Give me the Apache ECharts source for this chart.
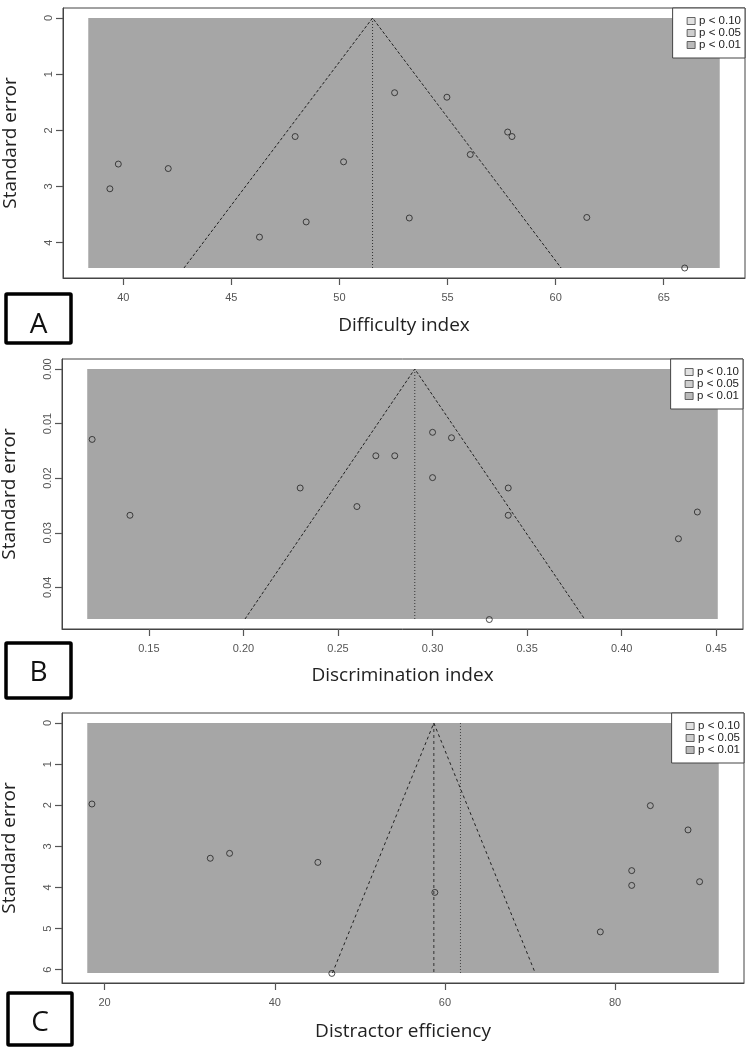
<!DOCTYPE html>
<html>
<head>
<meta charset="utf-8">
<script src="https://cdn.jsdelivr.net/npm/echarts@6/dist/echarts.min.js"></script>
<style>
html,body{margin:0;padding:0;background:#fff;}
#chart{width:750px;height:1051px;}
</style>
</head>
<body>
<div id="chart"></div>
<script>
// ---- Panel A: Difficulty index ----
const diffX  = [39.77, 39.38, 42.08, 47.95, 50.19, 48.46, 46.30, 52.55, 54.97, 57.78, 57.98, 56.05, 53.23, 61.44, 65.97];
const diffSE = [2.60, 3.04, 2.68, 2.11, 2.56, 3.63, 3.90, 1.33, 1.41, 2.03, 2.11, 2.43, 3.56, 3.55, 4.45];
const diffEst = 51.53;
const diffRegionX = [38.38, 67.59];
const diffRegionSE = 4.45;
const diffXTicks = [40, 45, 50, 55, 60, 65];
const diffYTicks = [0, 1, 2, 3, 4];

// ---- Panel B: Discrimination index ----
const discX  = [0.12, 0.14, 0.23, 0.26, 0.27, 0.28, 0.30, 0.31, 0.30, 0.34, 0.34, 0.44, 0.43, 0.33];
const discSE = [0.0129, 0.0268, 0.0218, 0.0252, 0.0159, 0.0159, 0.0116, 0.0126, 0.0199, 0.0218, 0.0268, 0.0262, 0.0311, 0.0459];
const discEst = 0.2906;
const discRegionX = [0.1174, 0.4508];
const discRegionSE = 0.0458;
const discXTicks = [0.15, 0.20, 0.25, 0.30, 0.35, 0.40, 0.45];
const discYTicks = [0.00, 0.01, 0.02, 0.03, 0.04];

// ---- Panel C: Distractor efficiency ----
const distX  = [18.51, 32.42, 34.69, 45.07, 46.71, 58.82, 84.15, 88.58, 81.96, 81.96, 89.94, 78.27];
const distSE = [1.97, 3.29, 3.17, 3.39, 6.09, 4.12, 2.01, 2.60, 3.59, 3.95, 3.86, 5.08];
const distEst = 58.7;
const distRef = 61.83;
const distRegionX = [17.96, 92.19];
const distRegionSE = 6.08;
const distXTicks = [20, 40, 60, 80];
const distYTicks = [0, 1, 2, 3, 4, 5, 6];

const legendNames = ['p < 0.10', 'p < 0.05', 'p < 0.01'];
const legendColors = ['#dadada', '#c2c2c2', '#a9a9a9'];
const panelLetters = ['A', 'B', 'C'];
const xTitles = ['Difficulty index', 'Discrimination index', 'Distractor efficiency'];
const yTitle = 'Standard error';

const panels = [
  {x: diffX, se: diffSE, est: diffEst, ref: null, rx: diffRegionX, rse: diffRegionSE, xt: diffXTicks, yt: diffYTicks, dec: 0, ydec: 0,
   grid: {left: 63, right: 5, top: 8, height: 270}, xGap: 38, funnelType: [3, 2], vType: [1, 2]},
  {x: discX, se: discSE, est: discEst, ref: null, rx: discRegionX, rse: discRegionSE, xt: discXTicks, yt: discYTicks, dec: 2, ydec: 2,
   grid: {left: 62, right: 7, top: 359, height: 270}, xGap: 37, funnelType: [3, 2], vType: [1, 2]},
  {x: distX, se: distSE, est: distEst, ref: distRef, rx: distRegionX, rse: distRegionSE, xt: distXTicks, yt: distYTicks, dec: 0, ydec: 0,
   grid: {left: 62, right: 6, top: 713, height: 270}, xGap: 39, funnelType: [3, 3], vType: [3, 3]}
];

const FONT_R = '"Liberation Sans", Arial, sans-serif';
const FONT_T = '"Open Sans", sans-serif';

const grids = [], xAxes = [], yAxes = [], series = [], legends = [], graphics = [];

panels.forEach((p, i) => {
  grids.push(Object.assign({show: true, borderColor: '#444', borderWidth: 1, backgroundColor: 'transparent',
    containLabel: false, outerBoundsMode: 'none'}, p.grid));
  const xr = p.rx[1] - p.rx[0];
  xAxes.push({
    type: 'value', gridIndex: i, position: 'bottom',
    min: p.rx[0] - 0.04 * xr, max: p.rx[1] + 0.04 * xr,
    axisLine: {show: true, onZero: false, lineStyle: {color: '#444', width: 1}},
    splitLine: {show: false},
    axisTick: {show: true, length: 7, customValues: p.xt, lineStyle: {color: '#555', width: 1.2}},
    axisLabel: {customValues: p.xt, margin: 14, color: '#555', fontSize: 11, fontFamily: FONT_R,
      formatter: v => Number(v).toFixed(p.dec)},
    name: xTitles[i], nameLocation: 'middle', nameGap: p.xGap,
    nameTextStyle: {fontSize: 19, fontFamily: FONT_T, color: '#222'}
  });
  yAxes.push({
    type: 'value', gridIndex: i, inverse: true, position: 'left',
    min: -0.04 * p.rse, max: 1.04 * p.rse,
    axisLine: {show: true, onZero: false, lineStyle: {color: '#444', width: 1}},
    splitLine: {show: false},
    axisTick: {show: true, length: 7, customValues: p.yt, lineStyle: {color: '#555', width: 1.2}},
    axisLabel: {customValues: p.yt, rotate: 90, margin: 9, color: '#555', fontSize: 11, fontFamily: FONT_R,
      formatter: v => Number(v).toFixed(p.ydec)},
    name: yTitle, nameLocation: 'middle', nameGap: 43,
    nameTextStyle: {fontSize: 19, fontFamily: FONT_T, color: '#222'}
  });
  // shaded region
  series.push({
    type: 'line', xAxisIndex: i, yAxisIndex: i, data: [], silent: true, z: 1,
    markArea: {silent: true, itemStyle: {color: '#a6a6a6', opacity: 1},
      data: [[{coord: [p.rx[0], 0]}, {coord: [p.rx[1], p.rse]}]]}
  });
  // funnel lines
  const half = 1.96 * p.rse;
  series.push({
    type: 'line', xAxisIndex: i, yAxisIndex: i, z: 3, symbol: 'none', silent: true,
    data: [[p.est - half, p.rse], [p.est, 0], [p.est + half, p.rse]],
    lineStyle: {color: '#222', width: 1, type: p.funnelType}
  });
  series.push({
    type: 'line', xAxisIndex: i, yAxisIndex: i, z: 3, symbol: 'none', silent: true,
    data: [[p.est, 0], [p.est, p.rse]],
    lineStyle: {color: '#333', width: 1, type: p.vType}
  });
  if (p.ref !== null) {
    series.push({
      type: 'line', xAxisIndex: i, yAxisIndex: i, z: 3, symbol: 'none', silent: true,
      data: [[p.ref, 0], [p.ref, p.rse]],
      lineStyle: {color: '#444', width: 1, type: [1, 2]}
    });
  }
  // points
  series.push({
    type: 'scatter', xAxisIndex: i, yAxisIndex: i, z: 4,
    data: p.x.map((v, k) => [v, p.se[k]]),
    symbol: 'circle', symbolSize: 6,
    itemStyle: {color: 'rgba(0,0,0,0)', borderColor: '#222', borderWidth: 1}
  });
  // legend
  legends.push({
    data: legendNames, orient: 'vertical', right: p.grid.right, top: p.grid.top,
    backgroundColor: '#fff', borderColor: '#444', borderWidth: 1,
    padding: [7, 4, 7, 14], itemGap: 0, itemWidth: 8, itemHeight: 7, icon: 'rect',
    selectedMode: false,
    itemStyle: {borderColor: '#444', borderWidth: 1},
    textStyle: {fontSize: 11.5, fontFamily: FONT_R, color: '#222', lineHeight: 11.5, padding: [0, 0, 0, -1]}
  });
});

// dummy series for legend
legendNames.forEach((n, k) => {
  series.push({name: n, type: 'scatter', xAxisIndex: 0, yAxisIndex: 0, data: [],
    itemStyle: {color: legendColors[k], borderColor: '#444', borderWidth: 1}});
});

// panel letter boxes
const boxes = [
  {x: 6, y: 294, w: 65, h: 49, ty: 325},
  {x: 6, y: 643, w: 65, h: 55, ty: 673},
  {x: 8, y: 993, w: 64, h: 52, ty: 1023}
];
boxes.forEach((b, i) => {
  graphics.push({type: 'rect', shape: {x: b.x, y: b.y, width: b.w, height: b.h, r: 1},
    style: {fill: '#fff', stroke: '#000', lineWidth: 3.5}, z: 10});
  graphics.push({type: 'text', x: b.x + b.w / 2, y: b.ty,
    style: {text: panelLetters[i], fontSize: 28, fontFamily: FONT_T, fill: '#111', align: 'center', verticalAlign: 'middle'}, z: 11});
});

const chart = echarts.init(document.getElementById('chart'), null, {renderer: 'canvas'});
chart.setOption({
  animation: false,
  backgroundColor: '#fff',
  grid: grids, xAxis: xAxes, yAxis: yAxes,
  series: series, legend: legends, graphic: graphics
});
</script>
</body>
</html>
